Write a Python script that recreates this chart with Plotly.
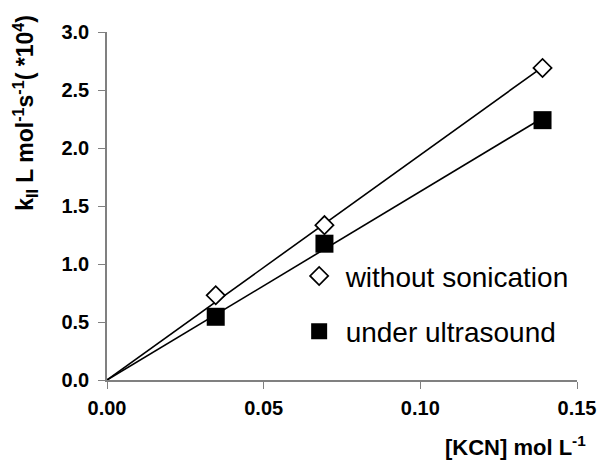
import numpy as np
import plotly.graph_objects as go

kcn = [0.0347, 0.0694, 0.139]
without_sonication = [0.73, 1.335, 2.69]
under_ultrasound = [0.545, 1.175, 2.24]

x_ticks = [0.0, 0.05, 0.10, 0.15]
x_tick_text = ["0.00", "0.05", "0.10", "0.15"]
y_ticks = [0.0, 0.5, 1.0, 1.5, 2.0, 2.5, 3.0]
y_tick_text = ["0.0", "0.5", "1.0", "1.5", "2.0", "2.5", "3.0"]

def fit_origin(x, y):
    x = np.array(x); y = np.array(y)
    return float((x * y).sum() / (x * x).sum())

FONT = "Arial, Liberation Sans, sans-serif"

fig = go.Figure()
line_x = [0.0, max(kcn)]
for ys in (without_sonication, under_ultrasound):
    s = fit_origin(kcn, ys)
    fig.add_trace(go.Scatter(x=line_x, y=[s * v for v in line_x], mode="lines",
                             line=dict(color="black", width=1.6), showlegend=False,
                             hoverinfo="skip"))

fig.add_trace(go.Scatter(x=kcn, y=without_sonication, mode="markers", name="without sonication",
                         legendgroup="a",
                         marker=dict(symbol="diamond", size=14, color="white",
                                     line=dict(color="black", width=1.7))))
fig.add_trace(go.Scatter(x=kcn, y=under_ultrasound, mode="markers", name="under ultrasound",
                         legendgroup="b",
                         marker=dict(symbol="square", size=18, color="black",
                                     line=dict(color="black", width=0))))

axis_common = dict(showgrid=False, zeroline=False, showline=True, linecolor="#808080",
                   linewidth=1.5, ticks="outside", ticklen=7, tickcolor="#808080",
                   tickwidth=1.3, tickfont=dict(size=20, family=FONT, color="black"))

fig.update_layout(
    width=600, height=454,
    margin=dict(l=99, r=27, t=24, b=82),
    paper_bgcolor="white", plot_bgcolor="white",
    font=dict(family=FONT, color="black"),
    showlegend=True,
    legend=dict(x=0.395, y=0.37, xanchor="left", yanchor="top",
                bgcolor="rgba(0,0,0,0)", font=dict(size=28, family=FONT, color="black"),
                tracegroupgap=16, itemsizing="trace", itemwidth=43),
    xaxis=dict(range=[0, 0.15], tickvals=x_ticks, ticklabelstandoff=2,
               ticktext=["<b>%s</b>" % t for t in x_tick_text], **axis_common),
    yaxis=dict(range=[0, 3.0], tickvals=y_ticks, ticklabelstandoff=5,
               ticktext=["<b>%s</b>" % t for t in y_tick_text], **axis_common),
    annotations=[
        dict(text="<b>[KCN] mol L<sup>-1</sup></b>", xref="paper", yref="paper",
             x=1.023, y=-0.19, xanchor="right", yanchor="middle", showarrow=False,
             font=dict(size=22, family=FONT, color="black")),
        dict(text="<b>k<sub>II</sub> L mol<sup>-1</sup>s<sup>-1</sup>( *10<sup>4</sup>)</b>",
             xref="paper", yref="paper", x=-0.175, y=0.767, textangle=-90,
             xanchor="center", yanchor="middle", showarrow=False,
             font=dict(size=23, family=FONT, color="black")),
    ],
)

fig.write_html("out.html")
